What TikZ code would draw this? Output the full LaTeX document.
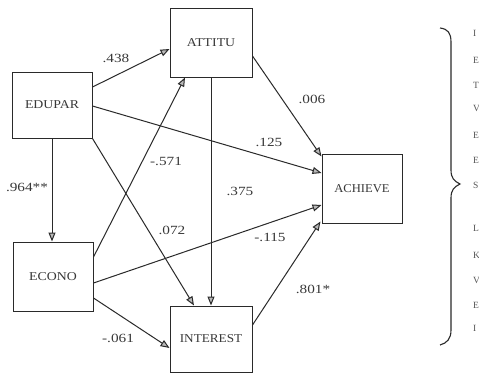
\documentclass[tikz,border=0pt]{standalone}
\usepackage{fontspec}
\setmainfont{Liberation Serif}
\usetikzlibrary{arrows.meta,calc}
\definecolor{ink}{HTML}{2A2A2A}
\definecolor{txt}{HTML}{383838}
\begin{document}
\begin{tikzpicture}[x=1pt,y=-1pt,
  var/.style={draw=ink,line width=1pt,rectangle,inner sep=0pt,
    font=\fontsize{12}{13}\selectfont,text=txt},
  path/.style={draw=ink,line width=1pt,
    -{Triangle[length=9pt,width=7pt,fill=gray!55]}},
  coef/.style={font=\fontsize{12.5}{13}\selectfont,text=txt,xscale=1.22,inner sep=0pt},
  side/.style={font=\fontsize{9.5}{10}\selectfont,text=txt!85,anchor=west,inner sep=0pt}]
\useasboundingbox (0,0) rectangle (479,375);
\fill[white] (0,0) rectangle (479,375);

% variables
\node[var,minimum width=80pt,minimum height=66pt] (edupar) at (52,105) {\scalebox{1.15}[1]{EDUPAR}};
\node[var,minimum width=82pt,minimum height=69pt] (attitu) at (211,42.5) {\scalebox{1.15}[1]{ATTITU}};
\node[var,minimum width=80pt,minimum height=69pt] (econo) at (53,276.5) {\scalebox{1.15}[1]{ECONO}};
\node[var,minimum width=82pt,minimum height=66pt] (interest) at (211,339) {\scalebox{1.1}[1]{INTEREST}};
\node[var,minimum width=80pt,minimum height=69pt] (achieve) at (362,188.5) {\scalebox{1.05}[1]{ACHIEVE}};

% paths between variables
\draw[path] ([yshift=18pt]edupar.east) -- ([yshift=-6.5pt]attitu.west);
\draw[path] ([yshift=-1pt]edupar.east) -- ([yshift=15.5pt]achieve.west);
\draw[path] (edupar.south) -- (edupar.south |- econo.north);
\draw[path] (edupar.south east) -- ([xshift=-17pt]interest.north);
\draw[path] ([yshift=19.5pt]econo.east) -- ([xshift=-26pt]attitu.south);
\draw[path] ([yshift=-6.5pt]econo.east) -- ([yshift=-16.5pt]achieve.west);
\draw[path] ([yshift=-21.5pt]econo.east) -- ([yshift=-9pt]interest.west);
\draw[path] (attitu.south) -- (interest.north);
\draw[path] ([yshift=-13.5pt]attitu.east) -- ([yshift=-3pt]achieve.north west);
\draw[path] ([yshift=14pt]interest.east) -- ([yshift=2pt,xshift=-1pt]achieve.south west);

% path coefficients
\node[coef] (c1) at (116,58) {.438};
\node[coef] (c2) at (269,142) {.125};
\node[coef] (c3) at (27,187) {.964**};
\node[coef] (c4) at (172,230) {.072};
\node[coef] (c5) at (166,161) {-.571};
\node[coef] (c6) at (270,237) {-.115};
\node[coef] (c7) at (118,338) {-.061};
\node[coef] (c8) at (240,191) {.375};
\node[coef] (c9) at (312,99) {.006};
\node[coef] (c10) at (313,289) {.801*};

% brace
\draw[ink,line width=1.1pt]
  (440,28) .. controls (448,29) and (451,33) .. (451,42)
  -- (451,170) .. controls (451,178) and (454,181) .. (460,184)
  .. controls (454,187) and (451,190) .. (451,198)
  -- (451,330) .. controls (451,339) and (447,343) .. (440,345);

% side list
\foreach \t/\yy [count=\i] in {I/33,E/60,T/85,V/108,E/135,E/160,S/185,L/228,K/255,V/280,E/305,I/328}
  \node[side] (s\i) at (473,\yy) {\t};
\end{tikzpicture}
\end{document}
